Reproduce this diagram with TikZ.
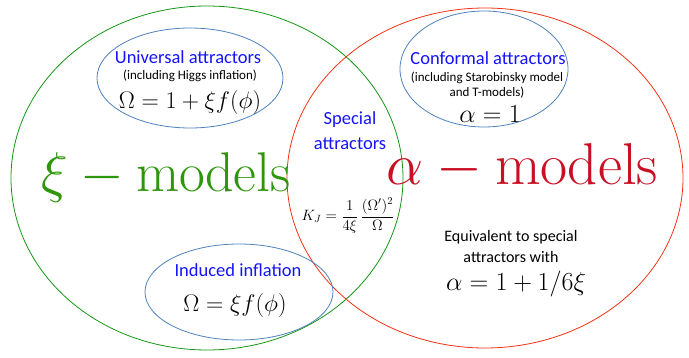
\RequirePackage{fix-cm}
\documentclass[tikz,border=0pt]{standalone}
\usepackage{fontspec}
\setsansfont{Carlito}
\usetikzlibrary{positioning}
\definecolor{xigreen}{RGB}{45,150,10}
\definecolor{xiline}{RGB}{20,150,20}
\definecolor{alphared}{RGB}{200,15,35}
\definecolor{alphaline}{RGB}{245,50,20}
\definecolor{bubble}{RGB}{79,129,189}
\definecolor{labelblue}{RGB}{20,20,250}

\begin{document}
\begin{tikzpicture}[x=1pt, y=-1pt,
    bubbleline/.style={draw=bubble, line width=0.8pt},
    title/.style={font=\sffamily\fontsize{18.5}{25}\selectfont, text=labelblue},
    note/.style={font=\sffamily\fontsize{13}{15}\selectfont, align=center},
    formula/.style={font=\fontsize{24}{28}\selectfont},
    bigword/.style={font=\fontsize{56}{60}\selectfont, anchor=base, inner sep=0pt}]
  \useasboundingbox (0,0) rectangle (689,358);
  % the two model families
  \draw[xiline, line width=0.8pt] (207,178) ellipse [x radius=196, y radius=172];
  \draw[alphaline, line width=0.8pt] (485,178) ellipse [x radius=198, y radius=170];
  % attractor bubbles
  \draw[bubbleline, fill=white] (190,78) ellipse [x radius=93, y radius=50];
  \draw[bubbleline, fill=white] (484,69) ellipse [x radius=84, y radius=58];
  \draw[bubbleline] (239,292) ellipse [x radius=94, y radius=48];

  \node[title] (univ) at (188,57) {Universal attractors};
  \node[note] (univnote) at (190,76) {(including Higgs inflation)};
  \node[formula] (univeq) at (190,103) {$\Omega = 1+\xi f(\phi)$};

  \node[title] (conf) at (488,58) {Conformal attractors};
  \node[note] (confnote) at (487,85) {(including Starobinsky model\\and T-models)};
  \node[formula, font=\fontsize{26}{30}\selectfont] (confeq) at (490,114) {$\alpha = 1$};

  \node[title, align=center] (special) at (350,131) {Special\\attractors};
  \node[font=\fontsize{15}{17}\selectfont, inner sep=0pt] (kj) at (348,216) {$\displaystyle K_J = \frac{1}{4\xi}\,\frac{(\Omega')^2}{\Omega}$};

  \node[bigword, text=xigreen] (ximodels) at (166,192) {$\xi - \mathrm{models}$};
  \node[bigword, text=alphared, font=\fontsize{59}{63}\selectfont] (alphamodels) at (522,185) {$\alpha - \mathrm{models}$};

  \node[note, font=\sffamily\fontsize{16}{21}\selectfont] (equiv) at (511,247) {Equivalent to special\\attractors with};
  \node[formula, font=\fontsize{26}{30}\selectfont] (equiveq) at (516,284) {$\alpha = 1+1/6\xi$};

  \node[title] (induced) at (238,270) {Induced inflation};
  \node[formula] (indeq) at (235,306) {$\Omega = \xi f(\phi)$};
\end{tikzpicture}
\end{document}
